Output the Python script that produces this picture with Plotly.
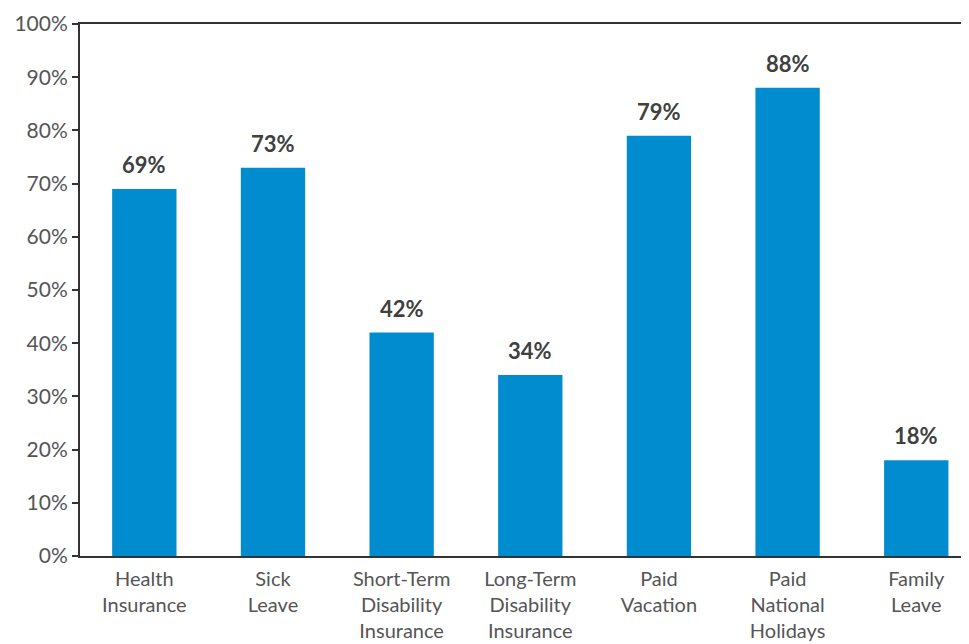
import plotly.graph_objects as go

categories = ["Health<br>Insurance", "Sick<br>Leave", "Short-Term<br>Disability<br>Insurance",
              "Long-Term<br>Disability<br>Insurance", "Paid<br>Vacation", "Paid<br>National<br>Holidays",
              "Family<br>Leave"]
values = [69, 73, 42, 34, 79, 88, 18]
y_ticks = list(range(0, 101, 10))
y_tick_labels = [f"{v}%" for v in y_ticks]

BAR = "#008CCE"
FONT = "Lato, 'Open Sans', sans-serif"

fig = go.Figure()
fig.add_trace(go.Bar(x=categories, y=values, width=0.5, marker=dict(color=BAR, line=dict(width=0)),
                     hoverinfo="skip"))

for c, v in zip(categories, values):
    fig.add_annotation(x=c, y=v, text=f"<b>{v}%</b>", showarrow=False, yanchor="bottom",
                       yshift=9, font=dict(family=FONT, size=22, color="#404040"))

fig.update_layout(
    width=961, height=636,
    margin=dict(l=72, r=0, t=16, b=88, autoexpand=False),
    paper_bgcolor="white", plot_bgcolor="white",
    showlegend=False,
)
fig.update_xaxes(
    range=[-0.5, 6.41], showgrid=False, showline=True, linecolor="#333333", linewidth=2,
    mirror=True, ticks="", tickfont=dict(family=FONT, size=20, color="#555555"),
    ticklabelstandoff=4, automargin=False,
)
fig.update_yaxes(
    range=[0, 100], tickvals=y_ticks, ticktext=y_tick_labels, showgrid=False, zeroline=False,
    showline=True, linecolor="#333333", linewidth=2, ticks="outside", ticklen=6,
    tickcolor="#333333", tickwidth=1.5, automargin=False,
    tickfont=dict(family=FONT, size=21, color="#555555"),
)

fig.write_html("out.html")
